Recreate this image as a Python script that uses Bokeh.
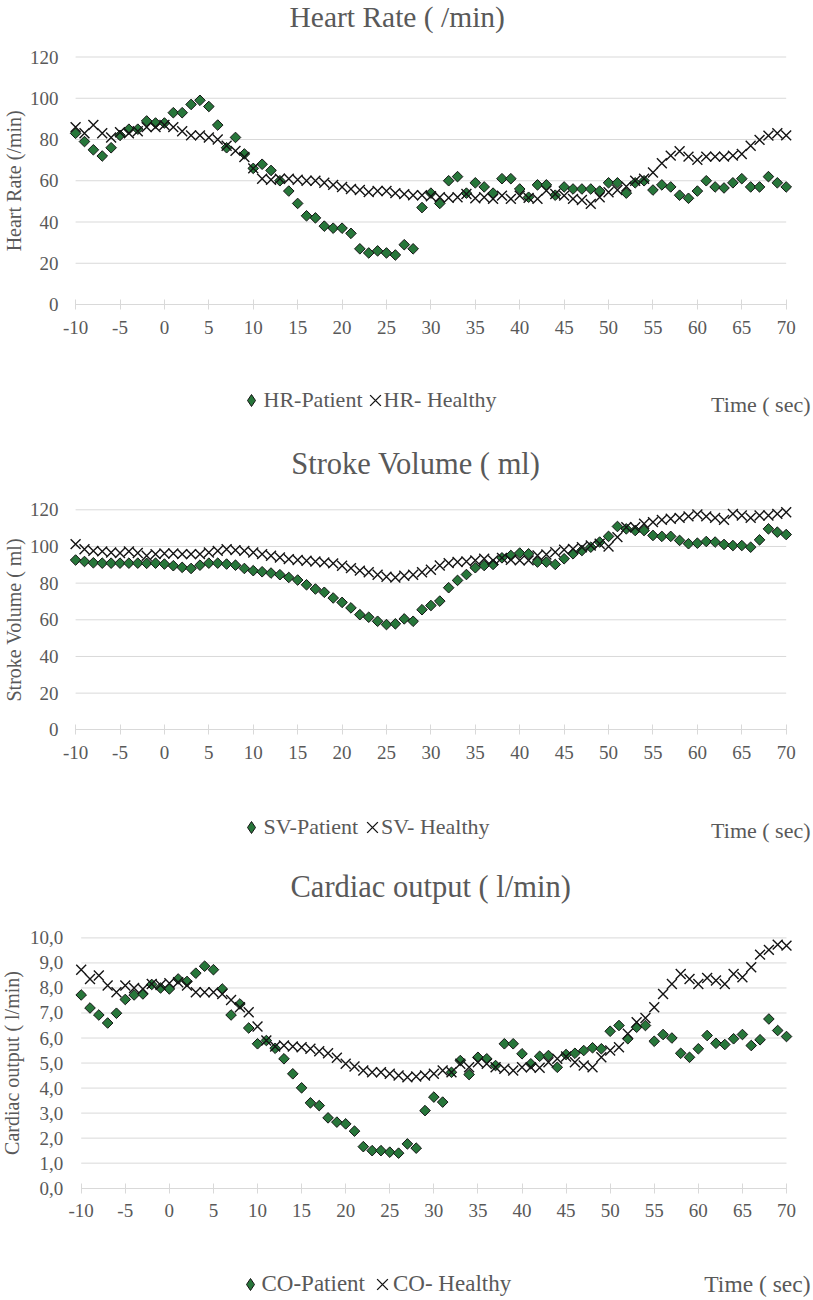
import numpy as np
from bokeh.plotting import figure
from bokeh.models import Range1d, FixedTicker, Label, Legend, LegendItem
from bokeh.layouts import column
from bokeh.embed import file_html
from bokeh.resources import INLINE

# ---------------- data ----------------
time_sec = list(range(-10, 71))
x_ticks = [-10, -5, 0, 5, 10, 15, 20, 25, 30, 35, 40, 45, 50, 55, 60, 65, 70]
x_tick_labels = ["-10", "-5", "0", "5", "10", "15", "20", "25", "30", "35", "40",
                 "45", "50", "55", "60", "65", "70"]

hr_patient = [83, 79, 75, 72, 76, 82, 85, 85, 89, 88,
              88, 93, 93, 97, 99, 96, 87, 76, 81, 73,
              66, 68, 65, 60, 55, 49, 43, 42, 38, 37,
              37, 34.5, 27, 25, 26, 25, 24, 29, 27, 47,
              54, 49, 60, 62, 54, 59, 57, 54, 61, 61,
              56, 52, 58, 58, 53, 57, 56, 56, 56, 55,
              59, 59, 54, 59, 60, 55.5, 58, 57, 53, 51.5,
              55, 60, 57, 56.5, 59, 61, 57, 57, 62, 59, 57]
hr_healthy = [86, 83, 87, 83, 81, 83.5, 83, 84, 86, 86,
              87, 86, 84, 82, 82, 81, 80, 77, 74.5, 71.5,
              66, 61, 60.5, 61, 61, 60.5, 60, 60, 59, 58,
              57, 56, 55.5, 54.5, 55, 55, 54, 53.5, 53, 53,
              52.5, 52, 51.7, 52, 53.6, 51.5, 52, 51.2, 52.8, 51.2,
              52.8, 51.7, 51.2, 55.2, 53.6, 52.8, 51.2, 50.7, 48.8, 52,
              54.4, 55.5, 57.2, 60, 61, 64, 68.5, 72.2, 74.3, 71.7,
              70.1, 71.7, 71.7, 71.7, 72.2, 73, 77, 79.8, 81.9, 83, 82]

sv_patient = [92.6, 91.8, 91.1, 90.9, 90.9, 90.9, 90.9, 90.9, 90.8, 90.9,
              90.4, 89.5, 88.6, 88, 89.8, 90.9, 90.9, 90.4, 89.8, 88,
              86.8, 86.2, 85.5, 84.6, 83.1, 81.7, 79.1, 76.8, 75, 71.9,
              69.5, 66.5, 62.8, 61.4, 59.2, 57.4, 57.8, 60.5, 59.2, 65.5,
              67.8, 70.2, 77.5, 81.5, 84.7, 88.4, 89.6, 90.2, 93.8, 95.1,
              96.4, 96, 91.5, 91.5, 90.2, 93.3, 96, 97.8, 99.6, 102.4,
              105.5, 110.9, 109.6, 108.7, 108.7, 106, 105.5, 105.5, 103.3, 101.5,
              101.8, 102.7, 102.4, 101.1, 100.5, 100.5, 99.6, 103.6, 109.6, 107.8, 106.5]
sv_healthy = [101.3, 98.5, 97.6, 97.3, 96.7, 96.4, 97.3, 96.4, 94.9, 95.8,
              96.2, 96.2, 95.8, 95.8, 95.8, 96.7, 97.6, 98.5, 98, 97.6,
              96.7, 95.8, 94.9, 94, 93.1, 92.6, 92.2, 91.8, 91.3, 90.8,
              89.5, 88.2, 86.8, 85.9, 84.6, 83.5, 83.1, 84, 84.6, 85.9,
              87.3, 89.6, 90.9, 91.5, 91.8, 92.4, 93.3, 92.4, 93.8, 92.7,
              92.4, 92.4, 95.1, 95.6, 96.9, 98.2, 98.7, 99.6, 100.5, 101.5,
              100, 105.1, 110.5, 110.5, 112.4, 113.3, 114.5, 115.1, 115.6, 116.4,
              117.5, 116.4, 115.6, 114.5, 117.8, 116.9, 115.6, 116.9, 116.9, 117.8, 118.7]

co_patient = [7.72, 7.2, 6.92, 6.6, 6.99, 7.54, 7.72, 7.76, 8.14, 8.0,
              7.96, 8.36, 8.26, 8.59, 8.87, 8.73, 7.96, 6.92, 7.36, 6.4,
              5.77, 5.9, 5.59, 5.17, 4.57, 4.01, 3.41, 3.3, 2.81, 2.64,
              2.57, 2.28, 1.66, 1.5, 1.5, 1.44, 1.4, 1.77, 1.6, 3.1,
              3.64, 3.44, 4.63, 5.1, 4.54, 5.23, 5.17, 4.9, 5.77, 5.77,
              5.37, 4.97, 5.27, 5.3, 4.83, 5.34, 5.39, 5.5, 5.61, 5.57,
              6.27, 6.5, 5.97, 6.43, 6.5, 5.87, 6.14, 6.0, 5.39, 5.23,
              5.57, 6.1, 5.79, 5.74, 5.97, 6.14, 5.7, 5.93, 6.76, 6.3, 6.06]
co_healthy = [8.73, 8.36, 8.5, 8.1, 7.83, 8.1, 8.0, 7.96, 8.16, 8.12,
              8.19, 8.23, 8.1, 7.83, 7.83, 7.83, 7.76, 7.52, 7.23, 7.03,
              6.46, 5.9, 5.66, 5.7, 5.66, 5.63, 5.57, 5.47, 5.39, 5.21,
              4.97, 4.86, 4.7, 4.63, 4.63, 4.57, 4.5, 4.43, 4.46, 4.5,
              4.57, 4.7, 4.63, 4.97, 4.83, 5.03, 4.97, 4.83, 4.77, 4.7,
              4.83, 4.83, 4.81, 5.03, 5.17, 5.26, 5.03, 4.9, 4.83, 5.23,
              5.5, 5.63, 6.17, 6.63, 6.8, 7.23, 7.76, 8.16, 8.56, 8.36,
              8.16, 8.4, 8.3, 8.16, 8.56, 8.43, 8.83, 9.33, 9.52, 9.73, 9.69]

hr_y_ticks = [0, 20, 40, 60, 80, 100, 120]
hr_y_labels = ["0", "20", "40", "60", "80", "100", "120"]
sv_y_ticks = [0, 20, 40, 60, 80, 100, 120]
sv_y_labels = ["0", "20", "40", "60", "80", "100", "120"]
co_y_ticks = [0, 1, 2, 3, 4, 5, 6, 7, 8, 9, 10]
co_y_labels = ["0,0", "1,0", "2,0", "3,0", "4,0", "5,0", "6,0", "7,0", "8,0", "9,0", "10,0"]

# ---------------- style ----------------
FONT = "'Liberation Serif', serif"
TEXT = "#595959"
GRID = "#d9d9d9"
GREEN = "#27763a"
EDGE = "#141414"
W = 813


def panel(title, ylabel, names, patient, healthy, y_ticks, y_labels, g):
    top, H = g["top"], g["h"]
    kx = (g["x70"] - g["xm10"]) / (x_ticks[-1] - x_ticks[0])
    xs = x_ticks[0] - g["xm10"] / kx
    ky = (g["y0"] - g["ytop"]) / (y_ticks[-1] - y_ticks[0])
    ys = -(top + H - g["y0"]) / ky

    def cy(page_y):
        return top + H - page_y

    p = figure(width=W, height=H, title=None,
               x_range=Range1d(xs, xs + W / kx), y_range=Range1d(ys, ys + H / ky),
               output_backend="svg", toolbar_location=None, min_border=0)
    p.outline_line_color = None
    p.background_fill_color = "white"
    p.border_fill_color = "white"
    p.xgrid.visible = False
    p.ygrid.visible = False

    gl = y_ticks[1:]
    p.segment(x0=[x_ticks[0]] * len(gl), x1=[x_ticks[-1]] * len(gl), y0=gl, y1=gl,
              line_color=GRID, line_width=1)

    p.scatter(time_sec, patient, marker="square", angle=np.pi / 4, size=7.5,
              fill_color=GREEN, line_color=EDGE, line_width=1)
    r_hea = p.scatter(time_sec, healthy, marker="x", size=14,
                      line_color=EDGE, line_width=1.4)
    r_leg = p.scatter(time_sec, patient, marker="diamond", size=14,
                      fill_color=GREEN, line_color=EDGE, line_width=1, visible=False)

    ax = p.xaxis[0]
    ax.fixed_location = y_ticks[0]
    ax.ticker = FixedTicker(ticks=x_ticks)
    ax.major_label_overrides = {t: l for t, l in zip(x_ticks, x_tick_labels)}
    ax.bounds = (x_ticks[0], x_ticks[-1])
    ax.axis_line_color = GRID
    ax.major_tick_line_color = GRID
    ax.major_tick_in = 5
    ax.major_tick_out = 5
    ax.minor_tick_line_color = None
    ax.major_label_text_font = FONT
    ax.major_label_text_font_size = "19px"
    ax.major_label_text_color = TEXT
    ax.major_label_standoff = 11

    ay = p.yaxis[0]
    ay.fixed_location = x_ticks[0]
    ay.ticker = FixedTicker(ticks=y_ticks)
    ay.major_label_overrides = {t: l for t, l in zip(y_ticks, y_labels)}
    ay.axis_line_color = None
    ay.major_tick_line_color = None
    ay.minor_tick_line_color = None
    ay.major_tick_in = 0
    ay.major_tick_out = 0
    ay.major_label_text_font = FONT
    ay.major_label_text_font_size = "19px"
    ay.major_label_text_color = TEXT
    ay.major_label_standoff = g["ys"]

    def label(text, pos, size, align="left", angle=0.0):
        p.add_layout(Label(x=pos[0], y=cy(pos[1]), x_units="screen", y_units="screen",
                           text=text, text_font=FONT, text_font_size=size, angle=angle,
                           text_color=TEXT, text_align=align, text_baseline="middle"))

    label(title, g["title"], g["hfs"])
    label(ylabel, g["ylab"], "20px", align="center", angle=np.pi / 2)
    label("Time ( sec)", g["time"], g["tfs"], align="right")
    label(names[0], g["t1"], g["lfs"])
    label(names[1], g["t2"], g["lfs"])

    # legend keys (marker swatches drawn by the library's legend)
    for rend, (kx_, ky_), box in ((r_leg, g["k1"], 30), (r_hea, g["k2"], 38)):
        p.add_layout(Legend(items=[LegendItem(label=" ", renderers=[rend])],
                            location=(kx_ - box / 2, cy(ky_ + box / 2)),
                            glyph_width=box, glyph_height=box, label_standoff=0,
                            label_width=1, label_height=1, padding=0, margin=0,
                            border_line_color=None, background_fill_alpha=0,
                            label_text_font_size="2px"), "center")
    return p


g1 = dict(top=0, h=434, xm10=75.1, x70=785.7, y0=304, ytop=56.5, ys=17,
          title=(289, 16), hfs="29.5px", ylab=(13, 180.3), time=(810, 403.5), tfs="22px",
          lfs="22px", k1=(250.5, 400), t1=(263, 399), k2=(374.5, 400), t2=(383, 399))
g2 = dict(top=434, h=428, xm10=75.1, x70=785.7, y0=729.3, ytop=509.3, ys=17,
          title=(290.7, 463.5), hfs="30.5px", ylab=(13, 619.3), time=(810, 830), tfs="22px",
          lfs="22px", k1=(250.5, 827), t1=(263, 826), k2=(372, 827), t2=(380.5, 826))
g3 = dict(top=862, h=438, xm10=80.7, x70=786, y0=1187.7, ytop=937.4, ys=18,
          title=(290, 886), hfs="30.5px", ylab=(11, 1062.5), time=(810, 1283.5), tfs="23.5px",
          lfs="23px", k1=(250.4, 1283.5), t1=(261, 1282.5), k2=(382, 1283.5), t2=(392.5, 1282.5))

p1 = panel("Heart Rate ( /min)", "Heart Rate (/min)", ["HR-Patient", "HR- Healthy"],
           hr_patient, hr_healthy, hr_y_ticks, hr_y_labels, g1)
p2 = panel("Stroke Volume ( ml)", "Stroke Volume ( ml)", ["SV-Patient", "SV- Healthy"],
           sv_patient, sv_healthy, sv_y_ticks, sv_y_labels, g2)
p3 = panel("Cardiac output ( l/min)", "Cardiac output ( l/min)", ["CO-Patient", "CO- Healthy"],
           co_patient, co_healthy, co_y_ticks, co_y_labels, g3)

layout = column(p1, p2, p3)
open("out.html", "w").write(file_html(layout, INLINE))
